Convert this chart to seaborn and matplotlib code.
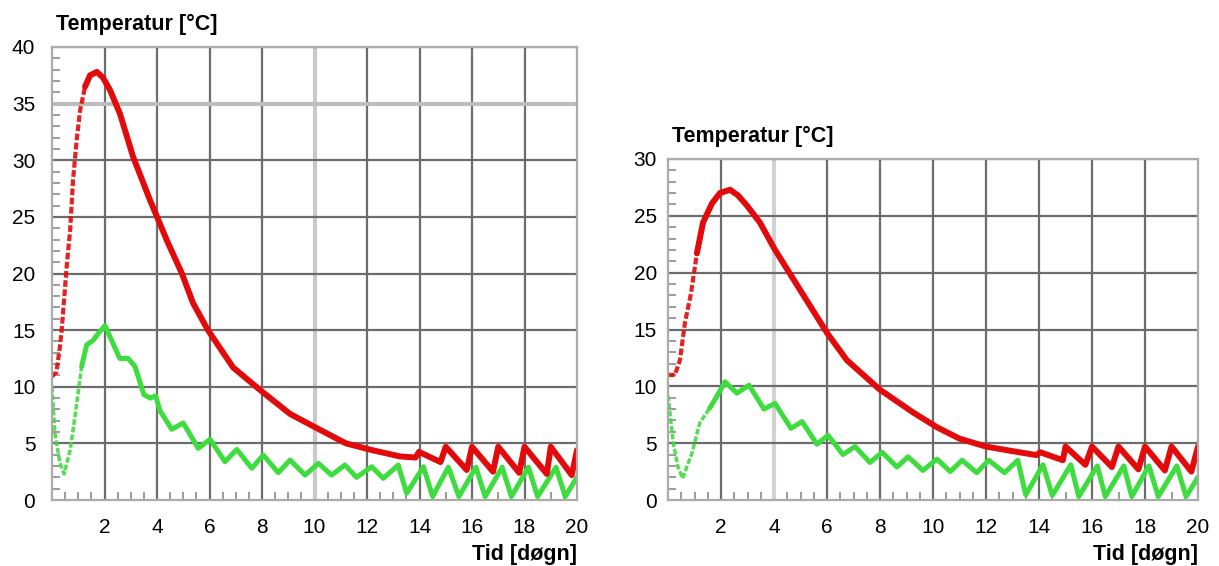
import matplotlib
matplotlib.use("Agg")
import matplotlib.pyplot as plt
from matplotlib.ticker import MultipleLocator
import pandas as pd
import seaborn as sns

# ---------------- data ----------------
left_red_days = [0, 0.17, 0.3, 0.37, 0.43, 0.57, 0.69, 0.8, 0.94, 1.07, 1.26, 1.45, 1.71, 1.94,
                 2.21, 2.59, 3.09, 3.73, 4.38, 4.95, 5.37, 5.94, 6.9, 8.04, 9.07, 10.0, 11.2,
                 12.2, 13.25, 13.85, 13.98, 14.8, 15.0, 15.8, 16.0, 16.8, 17.0, 17.8, 18.0,
                 18.85, 19.0, 19.8, 20.0]
left_red_temp = [10.9, 11.3, 13.5, 15.0, 16.8, 20.9, 23.8, 28.2, 31.8, 34.4, 36.5, 37.5, 37.8, 37.3,
                 36.2, 34.1, 30.3, 26.5, 22.9, 20.0, 17.4, 15.0, 11.7, 9.5, 7.6, 6.45, 5.0,
                 4.4, 3.85, 3.75, 4.25, 3.35, 4.7, 2.65, 4.7, 2.5, 4.7, 2.4, 4.7,
                 2.3, 4.7, 2.2, 4.4]

left_green_days = [0, 0.11, 0.3, 0.46, 0.69, 0.81, 0.94, 1.13, 1.32, 1.57, 1.76, 2.02, 2.27, 2.58,
                   2.9, 3.16, 3.5, 3.75, 3.95, 4.11, 4.56, 5.0, 5.57, 6.02, 6.59, 7.04, 7.61,
                   8.05, 8.62, 9.07, 9.64, 10.15, 10.65, 11.16, 11.6, 12.18, 12.62, 13.19, 13.51,
                   14.15, 14.5, 15.1, 15.5, 16.15, 16.5, 17.15, 17.5, 18.15, 18.5, 19.2, 19.55, 20.0]
left_green_temp = [10.0, 5.9, 3.3, 2.3, 4.4, 6.3, 8.5, 11.8, 13.7, 14.1, 14.7, 15.4, 14.1, 12.5,
                   12.5, 11.8, 9.3, 9.0, 9.2, 7.9, 6.24, 6.8, 4.56, 5.36, 3.38, 4.47, 2.8,
                   3.97, 2.41, 3.53, 2.2, 3.24, 2.2, 3.09, 2.0, 2.94, 1.91, 3.09, 0.59,
                   2.94, 0.3, 2.9, 0.3, 2.9, 0.3, 2.9, 0.3, 2.9, 0.3, 2.9, 0.3, 2.0]

right_red_days = [0, 0.26, 0.45, 0.64, 0.87, 1.09, 1.32, 1.66, 1.96, 2.34, 2.64, 2.98, 3.47, 4.04,
                  5.06, 6.0, 6.75, 8.0, 9.25, 10.15, 11.0, 12.0, 13.0, 13.9, 14.05, 14.9, 15.0,
                  15.75, 16.0, 16.75, 17.0, 17.75, 18.0, 18.75, 19.0, 19.75, 20.0]
right_red_temp = [11.0, 11.0, 12.3, 15.6, 18.2, 21.7, 24.4, 26.1, 27.0, 27.3, 26.8, 25.9, 24.4, 22.0,
                  18.2, 14.7, 12.3, 9.7, 7.7, 6.4, 5.4, 4.7, 4.3, 3.95, 4.2, 3.5, 4.7,
                  3.1, 4.7, 2.9, 4.7, 2.7, 4.7, 2.6, 4.7, 2.5, 4.7]

right_green_days = [0, 0.2, 0.38, 0.55, 0.9, 1.2, 1.58, 1.84, 2.15, 2.6, 3.06, 3.62, 4.04, 4.64,
                    5.06, 5.62, 6.04, 6.6, 7.06, 7.62, 8.08, 8.64, 9.06, 9.62, 10.15, 10.65, 11.1,
                    11.65, 12.1, 12.7, 13.2, 13.5, 14.15, 14.5, 15.2, 15.5, 16.2, 16.5, 17.2,
                    17.5, 18.15, 18.5, 19.2, 19.55, 20.0]
right_green_temp = [9.2, 5.0, 2.9, 1.9, 4.1, 6.8, 8.1, 9.1, 10.4, 9.4, 10.1, 8.0, 8.5, 6.3,
                    6.9, 4.9, 5.7, 4.0, 4.7, 3.3, 4.2, 2.9, 3.8, 2.6, 3.6, 2.5, 3.5,
                    2.4, 3.5, 2.4, 3.5, 0.45, 3.1, 0.4, 3.1, 0.3, 3.0, 0.3, 3.0,
                    0.3, 3.0, 0.3, 3.0, 0.3, 2.0]

x_ticks = [2, 4, 6, 8, 10, 12, 14, 16, 18, 20]
left_y_ticks = [0, 5, 10, 15, 20, 25, 30, 35, 40]
right_y_ticks = [0, 5, 10, 15, 20, 25, 30]
y_title = "Temperatur [°C]"
x_title = "Tid [døgn]"

RED = "#e20a0a"
GREEN = "#3fdc3f"

# ---------------- style ----------------
sns.set_theme(style="white")
plt.rcParams["font.family"] = ["Liberation Sans", "DejaVu Sans"]
plt.rcParams["text.color"] = "black"
plt.rcParams["xtick.color"] = "black"
plt.rcParams["ytick.color"] = "black"

W, H = 1219, 566
fig = plt.figure(figsize=(W / 100, H / 100), dpi=100)
ax1 = fig.add_axes([52 / W, 66 / H, 525 / W, 453 / H])
ax2 = fig.add_axes([668 / W, 66 / H, 530 / W, 341 / H])


def draw(ax, days, temps, color, lw, thin_until):
    df = pd.DataFrame({"d": days, "T": temps})
    k = int((df["d"] <= thin_until).sum())
    thin = df.iloc[:k + 1]
    thick = df.iloc[k - 1:]
    sns.lineplot(data=thin, x="d", y="T", ax=ax, color=color, lw=lw * 0.7,
                 sort=False, estimator=None, linestyle=(0, (1.6, 0.6)), alpha=0.9)
    sns.lineplot(data=thick, x="d", y="T", ax=ax, color=color, lw=lw,
                 sort=False, estimator=None, solid_capstyle="round",
                 solid_joinstyle="round")


draw(ax1, left_green_days, left_green_temp, GREEN, 3.6, 1.3)
draw(ax1, left_red_days, left_red_temp, RED, 4.3, 1.3)
draw(ax2, right_green_days, right_green_temp, GREEN, 3.6, 1.6)
draw(ax2, right_red_days, right_red_temp, RED, 4.3, 1.1)


def style(ax, yticks, ymax, ypad):
    ax.set_xlim(0, 20)
    ax.set_ylim(0, ymax)
    ax.set_xticks(x_ticks)
    ax.set_yticks(yticks)
    ax.set_xlabel("")
    ax.set_ylabel("")
    ax.xaxis.set_minor_locator(MultipleLocator(0.5))
    ax.yaxis.set_minor_locator(MultipleLocator(1))
    ax.grid(True, which="major", color="#6c6c6c", lw=1.6)
    ax.tick_params(which="major", length=0, labelsize=15, labelcolor="black")
    ax.tick_params(axis="x", which="major", pad=13)
    ax.tick_params(axis="y", which="major", pad=ypad)
    ax.tick_params(which="minor", direction="in", length=6, width=1.4,
                   color="#9c9c9c", left=True, bottom=True, top=False, right=False)
    for s in ax.spines.values():
        s.set_color("#ababab")
        s.set_linewidth(1.6)
    # edge gridlines are drawn as the light frame only
    ax.xaxis.get_gridlines()[-1].set_visible(False)
    ax.yaxis.get_gridlines()[0].set_visible(False)
    ax.annotate(y_title, xy=(0, 1), xycoords="axes fraction", xytext=(3, 12),
                textcoords="offset points", ha="left", va="baseline",
                fontsize=15.5, fontweight="bold", color="black")
    ax.annotate(x_title, xy=(1, 0), xycoords="axes fraction", xytext=(0, -43),
                textcoords="offset points", ha="right", va="baseline",
                fontsize=15.5, fontweight="bold", color="black")


style(ax1, left_y_ticks, 40, 12)
style(ax2, right_y_ticks, 30, 8)

# faint, wider gridlines seen in the reference
g = ax1.xaxis.get_gridlines()[4]
g.set_color("#c9c9c9"); g.set_linewidth(3.0)
g = ax1.yaxis.get_gridlines()[7]
g.set_color("#bdbdbd"); g.set_linewidth(3.0)
g = ax2.xaxis.get_gridlines()[1]
g.set_color("#d2d2d2"); g.set_linewidth(3.0)

fig.savefig("out.png", dpi=100, facecolor="white")
